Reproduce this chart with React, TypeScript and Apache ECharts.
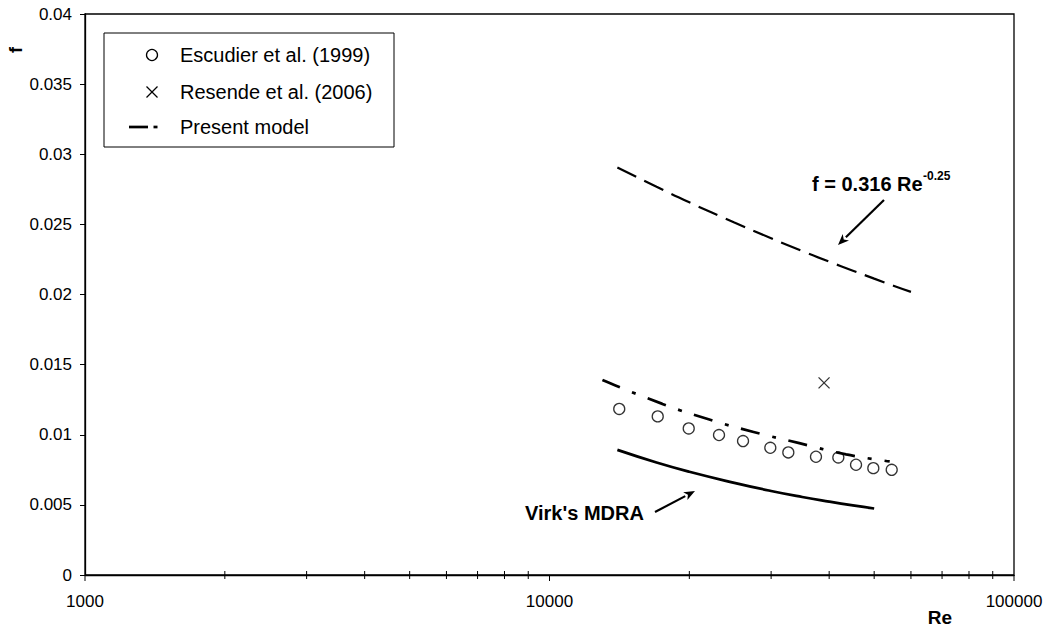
import React, { useEffect, useRef } from "react";
import * as echarts from "echarts";

// Escudier et al. (1999) measurements
const escudierRe = [14130, 17100, 19940, 23170, 26100, 29880, 32670, 37470, 41860, 45700, 49790, 54540];
const escudierF = [0.01184, 0.01131, 0.01045, 0.00998, 0.00955, 0.00907, 0.00874, 0.00843, 0.00838, 0.00786, 0.00762, 0.0075];

// Resende et al. (2006) measurement
const resendeRe = [39000];
const resendeF = [0.0137];

// Present model prediction
const modelRe = [13000, 17500, 22000, 27500, 34500, 43500, 54000];
const modelF = [0.0139, 0.0122, 0.0111, 0.0102, 0.0094, 0.0086, 0.0081];

// Blasius correlation f = 0.316 Re^-0.25
const blasiusRe = [14000, 17000, 20000, 25000, 30000, 35000, 40000, 45000, 50000, 55000, 60000];
const blasiusF = [0.02905, 0.02768, 0.02657, 0.02513, 0.02401, 0.0231, 0.02234, 0.0217, 0.02113, 0.02063, 0.02019];

// Virk's maximum drag reduction asymptote
const virkRe = [14000, 17000, 20000, 25000, 30000, 35000, 40000, 45000, 50000];
const virkF = [0.00892, 0.00802, 0.00736, 0.00657, 0.00599, 0.00556, 0.00523, 0.00496, 0.00474];

// Tick values of the logarithmic Re axis
const majorTicks = [1000, 10000, 100000];
const minorTicks = [2000, 3000, 4000, 5000, 6000, 7000, 8000, 9000, 20000, 30000, 40000, 50000, 60000, 70000, 80000, 90000];

const FONT = "'Liberation Sans', Arial, sans-serif";

const pairs = (xs: number[], ys: number[]) => xs.map((x, i) => [x, ys[i]]);

function arrow(x1: number, y1: number, x2: number, y2: number) {
  // shaft from (x1,y1) to head at (x2,y2)
  const ang = Math.atan2(y2 - y1, x2 - x1);
  const len = 11;
  const half = 4.5;
  const bx = x2 - len * Math.cos(ang);
  const by = y2 - len * Math.sin(ang);
  const px = -Math.sin(ang);
  const py = Math.cos(ang);
  return [
    {
      type: "line",
      shape: { x1, y1, x2: bx, y2: by },
      style: { stroke: "#000", lineWidth: 2.2 },
    },
    {
      type: "polygon",
      shape: {
        points: [
          [x2, y2],
          [bx + px * half, by + py * half],
          [bx + 3 * Math.cos(ang), by + 3 * Math.sin(ang)],
          [bx - px * half, by - py * half],
        ],
      },
      style: { fill: "#000" },
    },
  ];
}

export default function App() {
  const ref = useRef<HTMLDivElement>(null);

  useEffect(() => {
    if (!ref.current) return;
    const chart = echarts.init(ref.current, null, { renderer: "svg" });

    const tickData = [
      ...majorTicks.map((v) => [v, 0, 1]),
      ...minorTicks.map((v) => [v, 0, 0]),
    ];

    const legendRows = [
      { y: 55, text: "Escudier et al. (1999)" },
      { y: 92, text: "Resende et al. (2006)" },
      { y: 127, text: "Present model" },
    ];

    chart.setOption({
      animation: false,
      backgroundColor: "#fff",
      textStyle: { fontFamily: FONT },
      grid: {
        left: 85,
        right: 36,
        top: 14,
        bottom: 53,
        show: true,
        borderColor: "#000",
        borderWidth: 1.3,
        backgroundColor: "transparent",
      },
      xAxis: {
        type: "log",
        logBase: 10,
        min: 1000,
        max: 100000,
        axisLine: { show: true, onZero: false, lineStyle: { color: "#000", width: 1.3 } },
        axisTick: { show: false },
        splitLine: { show: false },
        axisLabel: {
          color: "#000",
          fontSize: 17,
          fontFamily: FONT,
          margin: 18,
          formatter: (v: number) => String(Math.round(v)),
        },
      },
      yAxis: {
        type: "value",
        min: 0,
        max: 0.04,
        interval: 0.005,
        axisLine: { show: true, lineStyle: { color: "#000", width: 1.3 } },
        axisTick: { show: true, length: 5, lineStyle: { color: "#000", width: 1 } },
        splitLine: { show: false },
        axisLabel: {
          color: "#000",
          fontSize: 17,
          fontFamily: FONT,
          margin: 13,
          formatter: (v: number) => String(parseFloat(v.toFixed(4))),
        },
      },
      series: [
        {
          name: "Re ticks",
          type: "custom",
          silent: true,
          clip: false,
          data: tickData,
          renderItem: (params: any, api: any) => {
            const p = api.coord([api.value(0), 0]);
            const major = api.value(2) === 1;
            return {
              type: "line",
              shape: { x1: p[0], y1: major ? p[1] : p[1] - 4, x2: p[0], y2: p[1] + (major ? 6 : 4) },
              style: { stroke: "#000", lineWidth: 1 },
            };
          },
          z: 5,
        },
        {
          name: "f = 0.316 Re^-0.25",
          type: "line",
          data: pairs(blasiusRe, blasiusF),
          showSymbol: false,
          smooth: true,
          lineStyle: { color: "#000", width: 2.2, type: [21, 9] },
        },
        {
          name: "Virk's MDRA",
          type: "line",
          data: pairs(virkRe, virkF),
          showSymbol: false,
          smooth: true,
          lineStyle: { color: "#000", width: 2.7, type: "solid" },
        },
        {
          name: "Present model",
          type: "line",
          data: pairs(modelRe, modelF),
          showSymbol: false,
          smooth: true,
          lineStyle: { color: "#000", width: 2.7, type: [19, 13, 4, 13] },
        },
        {
          name: "Escudier et al. (1999)",
          type: "scatter",
          data: pairs(escudierRe, escudierF),
          symbol: "circle",
          symbolSize: 11,
          itemStyle: { color: "rgba(255,255,255,0)", borderColor: "#000", borderWidth: 1.3 },
          z: 4,
        },
        {
          name: "Resende et al. (2006)",
          type: "scatter",
          data: pairs(resendeRe, resendeF),
          symbol: "path://M0,0L10,10M10,0L0,10",
          symbolSize: 11,
          itemStyle: { color: "rgba(255,255,255,0)", borderColor: "#000", borderWidth: 1.3 },
          z: 4,
        },
      ],
      graphic: [
        // axis titles
        {
          type: "text",
          x: 16,
          y: 50,
          rotation: Math.PI / 2,
          style: { text: "f", font: `bold 18px ${FONT}`, fill: "#000", align: "center", verticalAlign: "middle" },
        },
        {
          type: "text",
          x: 940,
          y: 617,
          style: { text: "Re", font: `bold 19px ${FONT}`, fill: "#000", align: "center", verticalAlign: "middle" },
        },
        // annotations
        {
          type: "text",
          x: 812,
          y: 184,
          style: { text: "f = 0.316 Re", font: `bold 20px ${FONT}`, fill: "#000", align: "left", verticalAlign: "middle" },
        },
        {
          type: "text",
          x: 923,
          y: 176,
          style: { text: "-0.25", font: `bold 12px ${FONT}`, fill: "#000", align: "left", verticalAlign: "middle" },
        },
        ...arrow(884, 200, 838, 245),
        {
          type: "text",
          x: 525,
          y: 513,
          style: { text: "Virk's MDRA", font: `bold 20px ${FONT}`, fill: "#000", align: "left", verticalAlign: "middle" },
        },
        ...arrow(655, 512, 695, 491),
        // legend box
        {
          type: "group",
          z: 100,
          children: [
            {
              type: "rect",
              shape: { x: 104, y: 33, width: 290, height: 114 },
              style: { fill: "#fff", stroke: "#000", lineWidth: 1 },
            },
            {
              type: "circle",
              shape: { cx: 152, cy: 55, r: 5.5 },
              style: { fill: "none", stroke: "#000", lineWidth: 1.3 },
            },
            {
              type: "line",
              shape: { x1: 146.5, y1: 86.5, x2: 157.5, y2: 97.5 },
              style: { stroke: "#000", lineWidth: 1.3 },
            },
            {
              type: "line",
              shape: { x1: 157.5, y1: 86.5, x2: 146.5, y2: 97.5 },
              style: { stroke: "#000", lineWidth: 1.3 },
            },
            {
              type: "line",
              shape: { x1: 129, y1: 127, x2: 148, y2: 127 },
              style: { stroke: "#000", lineWidth: 2.7 },
            },
            {
              type: "line",
              shape: { x1: 153.5, y1: 127, x2: 157.5, y2: 127 },
              style: { stroke: "#000", lineWidth: 2.7 },
            },
            ...legendRows.map((r) => ({
              type: "text",
              x: 180,
              y: r.y,
              style: { text: r.text, font: `20px ${FONT}`, fill: "#000", align: "left", verticalAlign: "middle" },
            })),
          ],
        },
      ],
    });

    return () => chart.dispose();
  }, []);

  return (
    <div
      ref={ref}
      style={{ position: "fixed", left: 0, top: 0, width: 1050, height: 628, background: "#fff" }}
    />
  );
}
